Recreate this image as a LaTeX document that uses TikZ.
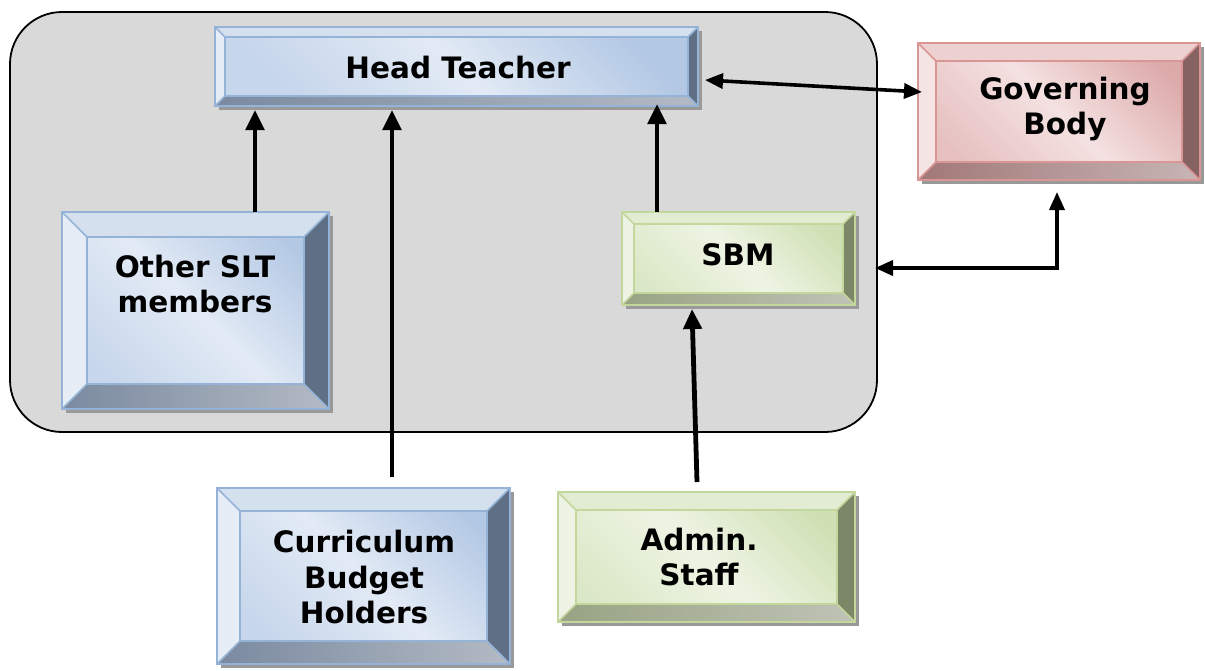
\documentclass[tikz,border=0pt]{standalone}
\usepackage{fontspec}
\setmainfont{DejaVu Sans}
\usetikzlibrary{arrows.meta,fit,calc}
\definecolor{grayfill}{HTML}{D9D9D9}
% blue
\definecolor{bface1}{HTML}{E2EAF5}\definecolor{bface2}{HTML}{B3C8E4}
\definecolor{btop}{HTML}{D5E0EF}\definecolor{bleft}{HTML}{E6EDF7}
\definecolor{bright}{HTML}{5E6F86}\definecolor{bbot1}{HTML}{7B8AA0}\definecolor{bbot2}{HTML}{B3BAC4}
\definecolor{bline}{HTML}{95B3D7}
% green
\definecolor{gface1}{HTML}{EEF4E4}\definecolor{gface2}{HTML}{CFE0B4}
\definecolor{gtop}{HTML}{E2ECD2}\definecolor{gleft}{HTML}{EEF3E6}
\definecolor{gright}{HTML}{7B8766}\definecolor{gbot1}{HTML}{98A383}\definecolor{gbot2}{HTML}{BFC3B6}
\definecolor{gline}{HTML}{C3D69B}
% red
\definecolor{rface1}{HTML}{F4E1E1}\definecolor{rface2}{HTML}{DDAAAA}
\definecolor{rtop}{HTML}{EDD0D0}\definecolor{rleft}{HTML}{F4E4E4}
\definecolor{rright}{HTML}{876262}\definecolor{rbot1}{HTML}{A27878}\definecolor{rbot2}{HTML}{C7B5B5}
\definecolor{rline}{HTML}{D99694}
\tikzset{
  lbl/.style={font=\bfseries\fontsize{29.5}{35.5}\selectfont, align=center, inner sep=0},
  conn/.style={line width=4.8pt, -{Triangle[width=18pt,length=20pt]}},
  connb/.style={line width=3.6pt, {Triangle[width=15pt,length=18pt]}-{Triangle[width=15pt,length=18pt]}},
}
% \bevbox{name}{x1}{y1}{x2}{y2}{bevel}{prefix}
\newcommand{\bevbox}[7]{%
  \fill[black!40] (#2+4,#3+4) rectangle (#4+4,#5+4);
  \shade[top color=#7face2, bottom color=#7face2!60!#7face1, middle color=#7face1, shading angle=-45] (#2,#3) rectangle (#4,#5);
  \fill[#7top] (#2,#3) -- (#4,#3) -- (#4-#6,#3+#6) -- (#2+#6,#3+#6) -- cycle;
  \fill[#7left] (#2,#3) -- (#2+#6,#3+#6) -- (#2+#6,#5-#6) -- (#2,#5) -- cycle;
  \fill[#7right] (#4,#3) -- (#4,#5) -- (#4-#6,#5-#6) -- (#4-#6,#3+#6) -- cycle;
  \shade[left color=#7bot1, right color=#7bot2] (#2,#5) -- (#4,#5) -- (#4-#6,#5-#6) -- (#2+#6,#5-#6) -- cycle;
  \draw[#7line, line width=1.6pt] (#2,#3) rectangle (#4,#5)
     (#2+#6,#3+#6) rectangle (#4-#6,#5-#6)
     (#2,#3) -- (#2+#6,#3+#6) (#4,#3) -- (#4-#6,#3+#6)
     (#2,#5) -- (#2+#6,#5-#6) (#4,#5) -- (#4-#6,#5-#6);
  \node[fit={(#2,#3) (#4,#5)}, inner sep=0] (#1) {};
}
\begin{document}
\begin{tikzpicture}[x=1pt,y=-1pt]
\useasboundingbox (0,0) rectangle (1205,670);
\draw[fill=grayfill, line width=1.8pt, rounded corners=52pt] (10,12) rectangle (877,432);
\node[fit={(10,12) (877,432)}, inner sep=0] (grp) {};

\bevbox{ht}{215}{27}{698}{106}{10}{b}
\node[lbl] (htt) at (458,67) {Head Teacher};
\bevbox{slt}{62}{212}{329}{409}{25}{b}
\node[lbl] (sltt) at (195,284) {Other SLT\\members};
\bevbox{sbm}{622}{212}{855}{305}{12}{g}
\node[lbl] (sbmt) at (738,255) {SBM};
\bevbox{gb}{918}{43}{1200}{180}{18}{r}
\node[lbl] (gbt) at (1065,109) {Governing\\Body};
\bevbox{cbh}{217}{488}{510}{664}{23}{b}
\node[lbl] (cbht) at (364,577) {Curriculum\\Budget\\Holders};
\bevbox{adm}{558}{492}{855}{622}{18}{g}
\node[lbl] (admt) at (699,557) {Admin.\\Staff};

\coordinate (cbhs) at (392,477);
\coordinate (cbhe) at (392,110);
\coordinate (adms) at (697,482);
\coordinate (bend) at (1057,268);
\draw[conn] (slt.north -| 255,0) -- (255,110);
\draw[conn] (cbhs) -- (cbhe);
\draw[conn] (sbm.north -| 657,0) -- (657,104);
\draw[conn] (adms) -- (692,309);
\draw[connb] (705,80) -- (922,92);
\draw[connb, line join=miter] (875,268) -- (bend) -- (1057,192);
\end{tikzpicture}
\end{document}
